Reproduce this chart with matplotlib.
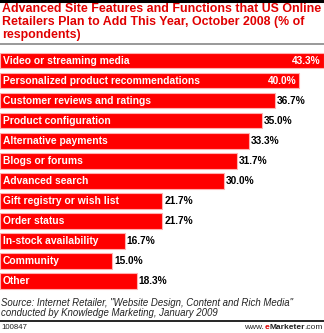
import matplotlib
matplotlib.use('Agg')
import matplotlib.pyplot as plt
from matplotlib.lines import Line2D

plt.rcParams['font.family'] = ['Liberation Sans', 'DejaVu Sans']

# data
categories = ['Video or streaming media', 'Personalized product recommendations',
              'Customer reviews and ratings', 'Product configuration',
              'Alternative payments', 'Blogs or forums', 'Advanced search',
              'Gift registry or wish list', 'Order status', 'In-stock availability',
              'Community', 'Other']
values = [43.3, 40.0, 36.7, 35.0, 33.3, 31.7, 30.0, 21.7, 21.7, 16.7, 15.0, 18.3]

title = ('Advanced Site Features and Functions that US Online\n'
         'Retailers Plan to Add This Year, October 2008 (% of\n'
         'respondents)')
source = ('Source: Internet Retailer, "Website Design, Content and Rich Media"\n'
          'conducted by Knowledge Marketing, January 2009')

W, H = 324, 333
fig = plt.figure(figsize=(W / 100, H / 100), dpi=100)

# axes: bar slots from y=50 to y=291 px
top_px, bot_px = 50.5, 291
ax = fig.add_axes([0, 1 - bot_px / H, 1, (bot_px - top_px) / H])
ypos = list(range(len(categories)))
ax.barh(ypos, values, height=0.78, color='#ff0000', edgecolor='#ffb0b0', linewidth=0.8)
ax.set_xlim(0, 324 / 7.48)
ax.set_ylim(len(categories) - 0.5, -0.5)
ax.axis('off')

for y, cat, v in zip(ypos, categories, values):
    ax.text(0.35, y, cat, color='white', fontweight='bold', fontsize=7.4,
            va='center', ha='left')
    if v > 38:
        ax.text(v - 0.4, y, f'{v:.1f}%', color='white', fontweight='bold',
                fontsize=7.3, va='center', ha='right')
    else:
        ax.text(v + 0.25, y, f'{v:.1f}%', color='black', fontweight='bold',
                fontsize=7.3, va='center', ha='left')

# header
fig.add_artist(Line2D([0, 1], [1 - 1 / H, 1 - 1 / H], color='black', lw=2.2))
fig.text(2 / W, 1 - 3 / H, title, color='#e00000', fontweight='bold', fontsize=8.95,
         va='top', ha='left', linespacing=1.12)
fig.add_artist(Line2D([0, 1], [1 - 44 / H, 1 - 44 / H], color='#888888', lw=1.2))

# footer
fig.text(1 / W, 1 - 298 / H, source, fontstyle='italic', fontsize=6.9, color='#222222',
         va='top', ha='left', linespacing=1.0)
fig.add_artist(Line2D([0, 1], [1 - 321 / H, 1 - 321 / H], color='black', lw=1.2))
fig.text(1 / W, 1 - 327.5 / H, '100847', fontsize=5.6, color='#222222', va='center', ha='left')
t1 = fig.text(1 - 1 / W, 1 - 327.5 / H, '.com', fontsize=6.0, color='#222222',
              va='center', ha='right')
fig.canvas.draw()
r = fig.canvas.get_renderer()
bb = t1.get_window_extent(r)
t2 = fig.text(bb.x0 / W, 1 - 327.5 / H, 'Marketer', fontsize=6.0, color='#222222',
              fontweight='bold', va='center', ha='right')
bb = t2.get_window_extent(r)
t3 = fig.text(bb.x0 / W, 1 - 327.5 / H, 'e', fontsize=6.0, color='#e00000',
              fontweight='bold', va='center', ha='right')
bb = t3.get_window_extent(r)
fig.text(bb.x0 / W, 1 - 327.5 / H, 'www.', fontsize=6.0, color='#222222',
         va='center', ha='right')

fig.savefig('out.png', dpi=100)
